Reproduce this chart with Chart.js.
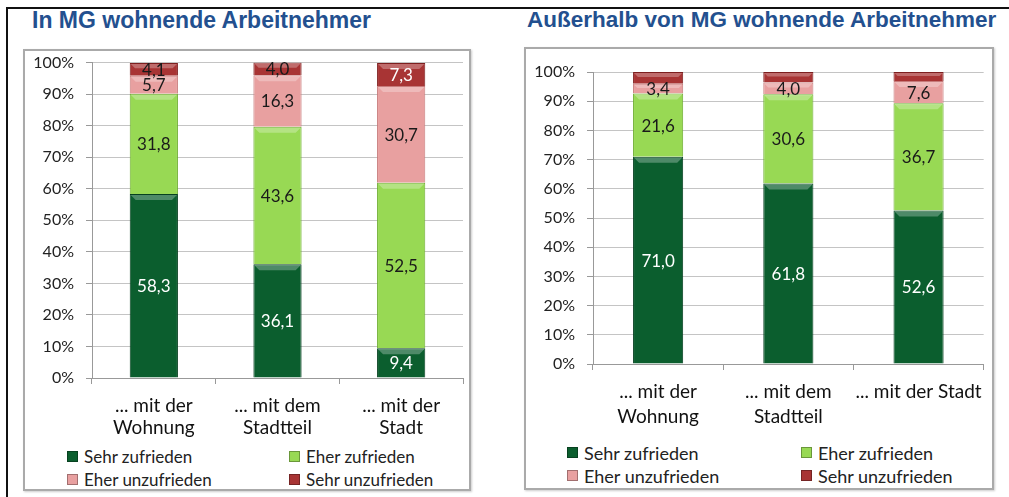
<!DOCTYPE html>
<html lang="de">

<head>
    <meta charset="UTF-8">
    <title>Zufriedenheit der Arbeitnehmer</title>
    <script src="https://cdn.jsdelivr.net/npm/chart.js"></script>
    <style>
        body { margin: 0; width: 1009px; height: 497px; background: #fff; position: relative; overflow: hidden; font-family: Lato, sans-serif; }
        .frame { position: absolute; left: 6px; top: 7px; width: 1020px; height: 520px; border-left: 2px solid #111; border-top: 2px solid #111; }
        .title { position: absolute; top: 9px; font: bold 22px/22px "Liberation Sans", Arial, sans-serif; color: #23508f; white-space: nowrap; }
        .box { position: absolute; box-sizing: border-box; border: 2px solid #aaa; box-shadow: 1px 1px 2px #ccc; background: #fff; }
        canvas { position: absolute; }
        .legend { position: absolute; display: grid; color: #222; }
        .legend span { display: flex; align-items: center; height: 23px; white-space: nowrap; }
        .legend i { display: inline-block; width: 9px; height: 9px; margin-right: 6px; border: 1px solid rgba(0,0,0,0.3); }
    </style>
</head>

<body>
    <div class="frame"></div>

    <div class="title" style="left: 32px; font-size: 23px;">In MG wohnende Arbeitnehmer</div>
    <div class="title" style="left: 527px; font-size: 22.5px;">Außerhalb von MG wohnende Arbeitnehmer</div>

    <div class="box" style="left: 23px; top: 49px; width: 448px; height: 442px;"></div>
    <div class="box" style="left: 524px; top: 47px; width: 470px; height: 443px;"></div>

    <canvas id="chartIn" width="444" height="401" style="left: 25px; top: 41px;"></canvas>
    <canvas id="chartAus" width="466" height="391" style="left: 526px; top: 49px;"></canvas>

    <div class="legend" id="legendIn" style="left: 67px; top: 445px; font-size: 17px; grid-template-columns: 222px 200px;"></div>
    <div class="legend" id="legendAus" style="left: 567px; top: 441px; font-size: 18px; grid-template-columns: 234px 210px;"></div>

    <script>
        // Daten
        const kategorienIn = [['... mit der', 'Wohnung'], ['... mit dem', 'Stadtteil'], ['... mit der', 'Stadt']];
        const kategorienAus = [['... mit der', 'Wohnung'], ['... mit dem', 'Stadtteil'], ['... mit der Stadt']];
        const serien = ['Sehr zufrieden', 'Eher zufrieden', 'Eher unzufrieden', 'Sehr unzufrieden'];

        const sehrZufriedenIn = [58.3, 36.1, 9.4];
        const eherZufriedenIn = [31.8, 43.6, 52.5];
        const eherUnzufriedenIn = [5.7, 16.3, 30.7];
        const sehrUnzufriedenIn = [4.1, 4.0, 7.3];

        const sehrZufriedenAus = [71.0, 61.8, 52.6];
        const eherZufriedenAus = [21.6, 30.6, 36.7];
        const eherUnzufriedenAus = [3.4, 4.0, 7.6];
        const sehrUnzufriedenAus = [4.0, 3.6, 3.1];   // ohne Beschriftung, geschätzt

        const yTicks = [0, 10, 20, 30, 40, 50, 60, 70, 80, 90, 100];

        const farben = ['#0b5e2e', '#98d954', '#e8a0a0', '#a83434'];
        const rahmen = ['#064020', '#6fae32', '#c77b7b', '#7d1f1f'];

        Chart.defaults.font.family = 'Lato, sans-serif';
        Chart.defaults.color = '#222';

        function labelFarbe(serie, wert) {
            if (serie === 0) return '#fff';
            if (serie === 3 && wert > 5) return '#fff';
            return '#1a1a1a';
        }

        // Beschriftung der Segmente
        const wertLabels = {
            id: 'wertLabels',
            afterDatasetsDraw(chart, args, opts) {
                const ctx = chart.ctx;
                ctx.save();
                ctx.font = '17px Lato, sans-serif';
                ctx.textAlign = 'center';
                ctx.textBaseline = 'middle';
                chart.data.datasets.forEach((ds, i) => {
                    if ((opts.skip || []).includes(i)) return;
                    chart.getDatasetMeta(i).data.forEach((bar, j) => {
                        const v = ds.data[j];
                        ctx.fillStyle = labelFarbe(i, v);
                        ctx.fillText(v.toFixed(1).replace('.', ','), bar.x, (bar.y + bar.base) / 2 + 1);
                    });
                });
                ctx.restore();
            }
        };

        // leichter Glanz oben an jedem Segment
        const glanz = {
            id: 'glanz',
            afterDatasetDraw(chart, args) {
                const ctx = chart.ctx;
                ctx.save();
                args.meta.data.forEach(bar => {
                    const h = Math.min(5, Math.abs(bar.base - bar.y) / 3);
                    const w = bar.width;
                    ctx.fillStyle = 'rgba(255,255,255,0.28)';
                    ctx.beginPath();
                    ctx.moveTo(bar.x - w / 2 + 1, bar.y + 1);
                    ctx.lineTo(bar.x + w / 2 - 1, bar.y + 1);
                    ctx.lineTo(bar.x + w / 2 - 1 - h, bar.y + 1 + h);
                    ctx.lineTo(bar.x - w / 2 + 1 + h, bar.y + 1 + h);
                    ctx.closePath();
                    ctx.fill();
                });
                ctx.restore();
            }
        };

        function macheChart(id, kategorien, werte, opts) {
            return new Chart(document.getElementById(id), {
                type: 'bar',
                data: {
                    labels: kategorien,
                    datasets: werte.map((d, i) => ({
                        label: serien[i],
                        data: d,
                        backgroundColor: farben[i],
                        borderColor: rahmen[i],
                        borderWidth: 1,
                        barPercentage: opts.barPct,
                        categoryPercentage: 1
                    }))
                },
                options: {
                    responsive: false,
                    animation: false,
                    layout: { padding: { top: opts.top, right: opts.right, left: 0, bottom: 0 } },
                    plugins: {
                        legend: { display: false },
                        tooltip: { enabled: false },
                        wertLabels: { skip: opts.skip }
                    },
                    scales: {
                        x: {
                            stacked: true,
                            grid: { drawOnChartArea: false, tickLength: 6, color: '#999', offset: true },
                            border: { color: '#999' },
                            ticks: { font: { size: 19, lineHeight: opts.lh }, color: '#111', padding: 10, maxRotation: 0 },
                            afterFit(s) { s.height = opts.xHeight; }
                        },
                        y: {
                            stacked: true,
                            min: 0,
                            max: 100,
                            afterBuildTicks(s) { s.ticks = yTicks.map(v => ({ value: v })); },
                            ticks: { font: { size: 16 }, color: '#222', padding: 12, callback: v => v + '%' },
                            grid: { color: '#c4c4c4', tickLength: 6, tickColor: '#999' },
                            border: { color: '#999' },
                            afterFit(s) { s.width = 67; }
                        }
                    }
                },
                plugins: [glanz, wertLabels]
            });
        }

        macheChart('chartIn', kategorienIn,
            [sehrZufriedenIn, eherZufriedenIn, eherUnzufriedenIn, sehrUnzufriedenIn],
            { barPct: 0.39, top: 0, right: 6, xHeight: 64, lh: 1.2, skip: [] });

        macheChart('chartAus', kategorienAus,
            [sehrZufriedenAus, eherZufriedenAus, eherUnzufriedenAus, sehrUnzufriedenAus],
            { barPct: 0.385, top: 23, right: 2, xHeight: 76, lh: 1.3, skip: [3] });

        // Legende (2 x 2)
        function legende(id) {
            const el = document.getElementById(id);
            serien.forEach((s, i) => {
                const item = document.createElement('span');
                const box = document.createElement('i');
                box.style.background = farben[i];
                item.appendChild(box);
                item.appendChild(document.createTextNode(s));
                el.appendChild(item);
            });
        }
        legende('legendIn');
        legende('legendAus');
    </script>
</body>

</html>
